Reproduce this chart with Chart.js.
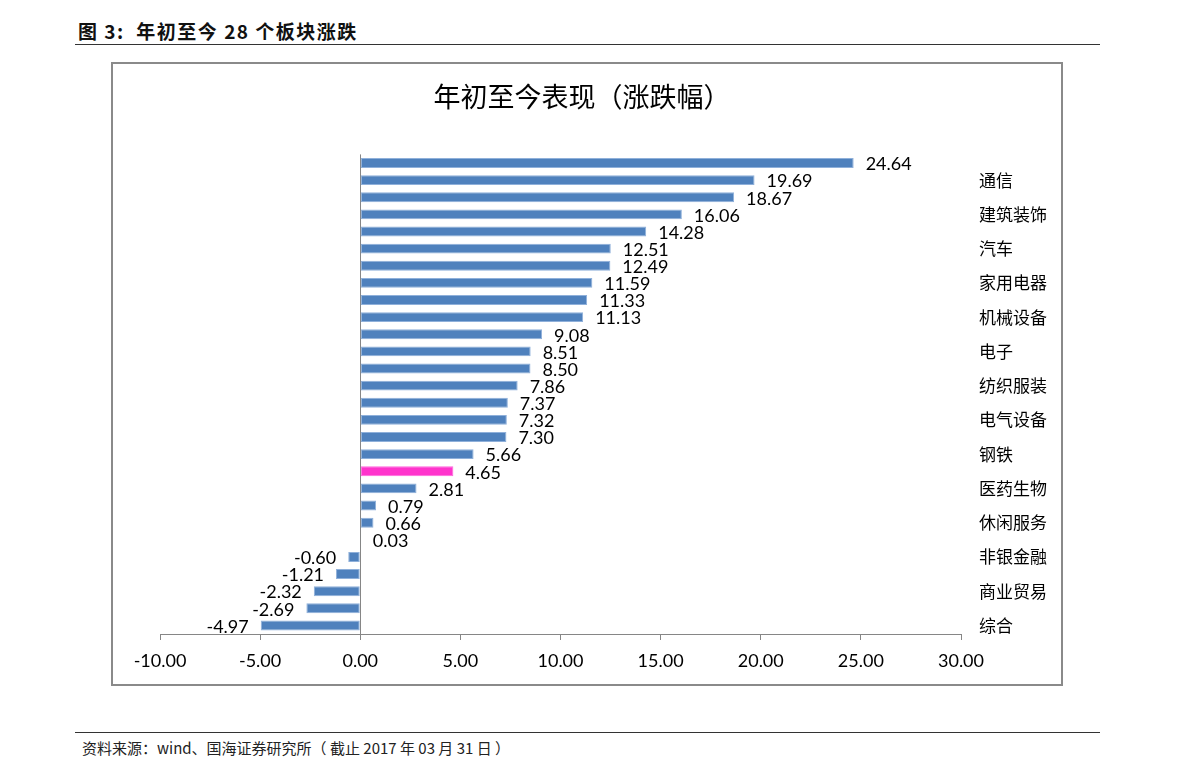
<!DOCTYPE html>
<html>
<head>
<meta charset="utf-8">
<script src="https://cdn.jsdelivr.net/npm/chart.js@4"></script>
<style>
    body { margin: 0; background: #fff; width: 1191px; height: 779px; position: relative; font-family: "Noto Sans CJK SC", sans-serif; }
    #cabecera { position: absolute; left: 78px; top: 17px; font-size: 19px; font-weight: bold; color: #111; letter-spacing: 1.5px; }
    #lineaSup { position: absolute; left: 75px; top: 44px; width: 1025px; border-top: 1.5px solid #333; }
    #caja { position: absolute; left: 111px; top: 62px; width: 952px; height: 624px; border: 2px solid #8a8a8a; box-sizing: border-box; }
    #lineaInf { position: absolute; left: 75px; top: 732px; width: 1025px; border-top: 1.5px solid #333; }
    #fuente { position: absolute; left: 82px; top: 737px; font-size: 15px; color: #222; }
</style>
</head>
<body>
<div id="cabecera">图 3:&nbsp;&nbsp;年初至今 28 个板块涨跌</div>
<div id="lineaSup"></div>
<div id="caja"><canvas id="graficaSectores"></canvas></div>
<div id="lineaInf"></div>
<div id="fuente">资料来源：wind、国海证券研究所（ 截止 2017 年 03 月 31 日 ）</div>

<script>
const sectores = ["食品饮料", "通信", "建筑材料", "建筑装饰", "国防军工", "汽车", "交通运输", "家用电器",
    "有色金属", "机械设备", "化工", "电子", "采掘", "纺织服装", "轻工制造", "电气设备", "公用事业",
    "钢铁", "沪深300", "医药生物", "农林牧渔", "休闲服务", "银行", "非银金融", "房地产", "商业贸易",
    "计算机", "综合"];
const rendimientos = [24.64, 19.69, 18.67, 16.06, 14.28, 12.51, 12.49, 11.59, 11.33, 11.13, 9.08, 8.51,
    8.50, 7.86, 7.37, 7.32, 7.30, 5.66, 4.65, 2.81, 0.79, 0.66, 0.03, -0.60, -1.21, -2.32, -2.69, -4.97];
const destacado = "沪深300";
const ejeX = { min: -10, max: 30, paso: 5 };

document.addEventListener("DOMContentLoaded", iniciarGrafica);

function iniciarGrafica() {

    const canvas = document.getElementById("graficaSectores");
    const ctx = canvas.getContext("2d");

    const colores = sectores.map(s => s === destacado ? "#FF33CC" : "#4F81BD");
    const bordes = sectores.map(s => s === destacado ? "#FF66DD" : "#8FB0DA");

    // etiquetas de valor junto a cada barra
    const etiquetasValor = {
        id: "etiquetasValor",
        afterDatasetsDraw(chart) {
            const c = chart.ctx;
            const barras = chart.getDatasetMeta(0).data;
            c.save();
            c.font = "18px Lato";
            c.fillStyle = "#000";
            c.textBaseline = "middle";
            barras.forEach((b, i) => {
                const v = rendimientos[i];
                if (v >= 0) {
                    c.textAlign = "left";
                    c.fillText(v.toFixed(2), b.x + 12, b.y + 1.5);
                } else {
                    c.textAlign = "right";
                    c.fillText(v.toFixed(2), b.x - 12, b.y + 1.5);
                }
            });
            c.restore();
        }
    };

    new Chart(ctx, {
        type: "bar",
        data: {
            labels: sectores,
            datasets: [{
                data: rendimientos,
                backgroundColor: colores,
                borderColor: bordes,
                borderWidth: 1,
                borderSkipped: false,
                barPercentage: 0.58,
                categoryPercentage: 1
            }]
        },
        options: {
            indexAxis: "y",
            responsive: true,
            maintainAspectRatio: false,
            animation: false,
            layout: { padding: { left: 0, right: 10, top: 0, bottom: 0 } },
            plugins: {
                legend: { display: false },
                tooltip: { enabled: false },
                title: {
                    display: true,
                    text: "年初至今表现（涨跌幅）",
                    color: "#000",
                    font: { family: "Noto Sans CJK SC", size: 27, weight: "normal", lineHeight: 1.2 },
                    padding: { top: 17, bottom: 41 }
                }
            },
            scales: {
                x: {
                    min: ejeX.min,
                    max: ejeX.max,
                    afterFit: s => { s.height = 50; },
                    border: { display: true, color: "#868686", width: 1 },
                    grid: {
                        color: c => c.tick && c.tick.value === 0 ? "#868686" : "rgba(0,0,0,0)",
                        tickColor: "#868686",
                        tickLength: 6,
                        lineWidth: 1
                    },
                    ticks: {
                        stepSize: ejeX.paso,
                        color: "#000",
                        padding: 10,
                        font: { family: "Lato", size: 18 },
                        callback: v => v.toFixed(2)
                    }
                },
                y: {
                    position: "right",
                    afterFit: s => { s.width = 90; },
                    border: { display: false },
                    grid: { display: false, drawTicks: false },
                    ticks: {
                        autoSkip: false,
                        padding: 18,
                        color: "#000",
                        font: { family: "Noto Sans CJK SC", size: 17 },
                        callback: (v, i) => i % 2 === 1 ? sectores[i] : ""
                    }
                },
                // margen izquierdo vacío
                margenIzq: {
                    type: "linear",
                    position: "left",
                    afterFit: s => { s.width = 47; },
                    border: { display: false },
                    grid: { display: false, drawTicks: false },
                    ticks: { display: false }
                }
            }
        },
        plugins: [etiquetasValor]
    });

}
</script>
</body>
</html>
